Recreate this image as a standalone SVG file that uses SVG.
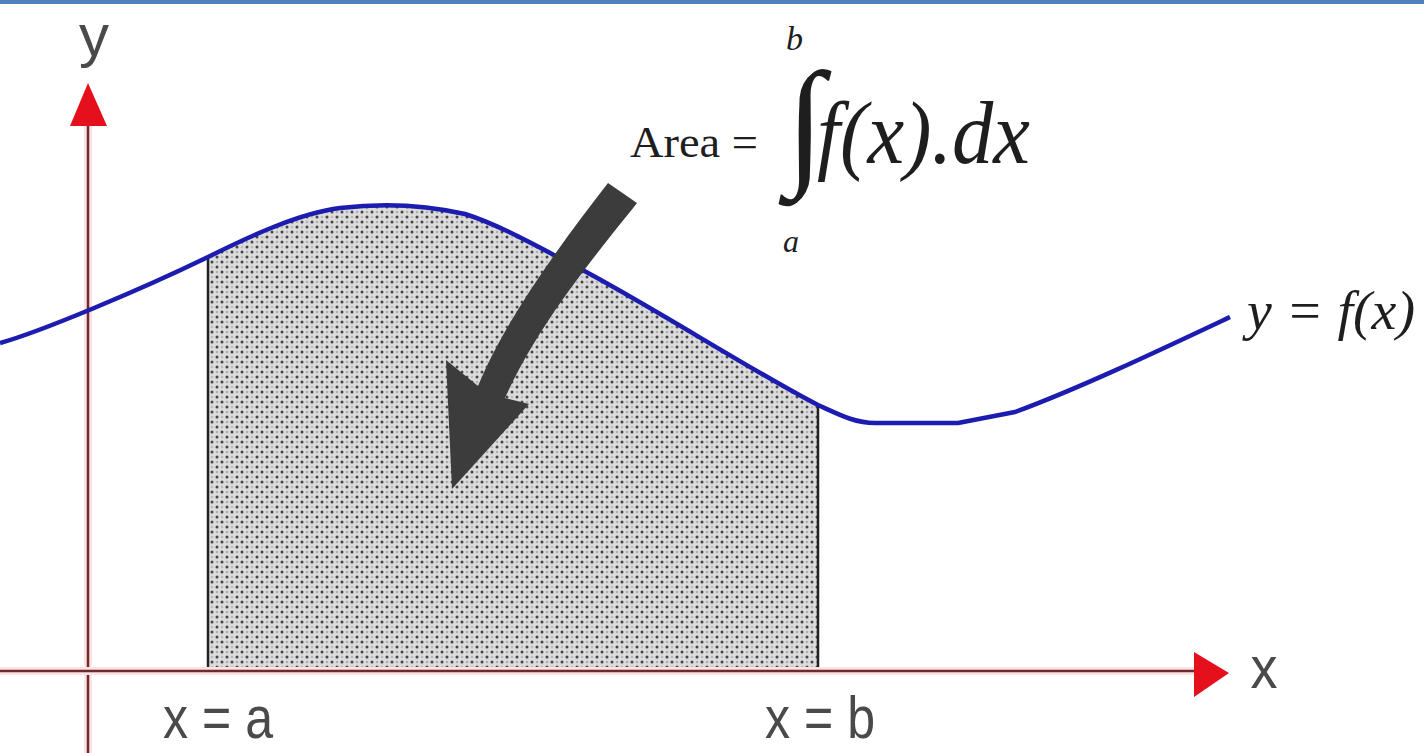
<svg xmlns="http://www.w3.org/2000/svg" width="1424" height="753" viewBox="0 0 1424 753">
<style>
.sans{font-family:"Liberation Sans",Arial,sans-serif;fill:#4a4a4a;font-size:60px}
.serif{font-family:"Liberation Serif","Times New Roman",serif;fill:#1e1e1e}
.ital{font-style:italic}
.axis{stroke:#6e2a2e;stroke-width:2.5;fill:none}
.halo{stroke:#fde2e3;stroke-width:8;fill:none}
.head{fill:#e5101c}
.edge{stroke:#222;stroke-width:2.5}
</style>
<defs>
<pattern id="dots" width="10" height="10" patternUnits="userSpaceOnUse">
<rect width="10" height="10" fill="#dcdcdc"/>
<circle cx="2" cy="2" r="1.5" fill="#444"/>
<circle cx="7" cy="7" r="1.5" fill="#444"/>
<circle cx="7" cy="2" r="1.3" fill="#b0b0b0"/>
<circle cx="2" cy="7" r="1.3" fill="#bcbcbc"/>
</pattern>
</defs>
<rect width="1424" height="753" fill="#ffffff"/>
<rect x="0" y="0" width="1424" height="4" fill="#4f81bd"/>

<g id="area-region">
<path d="M208,257 C250,236 300,213 340,208 C390,202 430,206 465,214 C500,225 540,248 575,266 C650,305 750,370 818,405 L818,671 L208,671 Z" fill="url(#dots)"/>
<line class="edge" x1="208" y1="257" x2="208" y2="671"/>
<line class="edge" x1="818" y1="405" x2="818" y2="671"/>
</g>

<g id="y-axis">
<line class="halo" x1="88" y1="125" x2="88" y2="753"/>
<line class="axis" x1="88" y1="120" x2="88" y2="753"/>
<polygon class="head" points="88,83 107,126 70,126"/>
<text class="sans" x="94" y="56" font-size="54" text-anchor="middle">y</text>
</g>

<g id="x-axis">
<line class="halo" x1="0" y1="671" x2="1196" y2="671"/>
<line class="axis" x1="0" y1="671" x2="1200" y2="671"/>
<polygon class="head" points="1229,673 1194,652 1194,697"/>
<text class="sans" x="1264" y="688" text-anchor="middle" textLength="27" lengthAdjust="spacingAndGlyphs">x</text>
</g>

<g id="curve">
<path d="M0,343 C40,332 140,290 208,257 C250,236 300,213 340,208 C390,202 430,206 465,214 C500,225 540,248 575,266 C650,305 750,370 818,405 C840,415 855,423 875,423 L958,423 L1015,412 C1080,388 1160,350 1230,317" fill="none" stroke="#1c1cb0" stroke-width="4.5" stroke-linejoin="round"/>
<text class="serif ital" x="1247" y="329" font-size="54" textLength="168" lengthAdjust="spacingAndGlyphs">y = f(x)</text>
</g>

<g id="formula">
<text class="serif" x="630" y="157" font-size="44" textLength="128" lengthAdjust="spacingAndGlyphs">Area =</text>
<text class="serif" x="786" y="169" font-size="140">∫</text>
<text class="serif ital" x="786" y="50" font-size="34">b</text>
<text class="serif ital" x="783" y="252" font-size="32">a</text>
<text class="serif ital" x="817" y="163" font-size="88" textLength="213" lengthAdjust="spacingAndGlyphs">f(x).dx</text>
</g>

<g id="labels">
<text class="sans" x="163" y="738" textLength="110" lengthAdjust="spacingAndGlyphs">x = a</text>
<text class="sans" x="765" y="738" textLength="110" lengthAdjust="spacingAndGlyphs">x = b</text>
</g>

<g id="connectors">
<path d="M608,183 L637,203 C600,250 540,320 505,398 L529,404 L452,489 L446,360 L478,386 C505,320 560,245 608,183 Z" fill="#3c3c3c"/>
</g>
</svg>
